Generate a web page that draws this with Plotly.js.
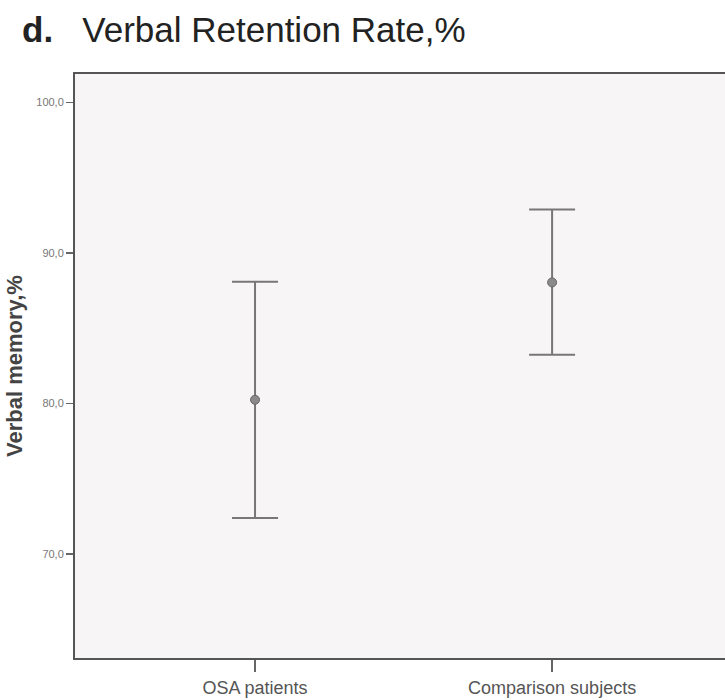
<!DOCTYPE html>
<html>
<head>
<meta charset="utf-8">
<script src="https://cdn.plot.ly/plotly-3.0.1.min.js"></script>
<style>html,body{margin:0;padding:0;background:#fff;}#chart{width:725px;height:700px;}</style>
</head>
<body>
<div id="chart"></div>
<script>
const categories = ["OSA patients", "Comparison subjects"];
const means = [80.25, 88.05];
const upper = [88.1, 92.9];
const lower = [72.4, 83.25];
const yTickVals = [70, 80, 90, 100];
const yTickText = ["70,0", "80,0", "90,0", "100,0"];

const xPos = categories.map((c, i) => i);
const trace = {
  type: "scatter",
  mode: "markers",
  x: xPos,
  y: means,
  marker: {size: 9, color: "#8a8a8a", line: {color: "#666", width: 1}},
  error_y: {
    type: "data",
    symmetric: false,
    array: upper.map((u, i) => u - means[i]),
    arrayminus: means.map((m, i) => m - lower[i]),
    color: "#777",
    thickness: 2,
    width: 23
  },
  hoverinfo: "skip"
};

const layout = {
  width: 725,
  height: 700,
  margin: {l: 75, r: 0, t: 74, b: 42},
  paper_bgcolor: "#ffffff",
  plot_bgcolor: "#f8f5f6",
  showlegend: false,
  title: {
    text: "<b>d.</b>&nbsp;&nbsp; Verbal Retention Rate,%",
    font: {family: "Liberation Sans, Arial, sans-serif", size: 35, color: "#222"},
    x: 0, xref: "container", xanchor: "left",
    y: 1, yref: "container", yanchor: "top",
    pad: {t: 17, l: 22}
  },
  xaxis: {
    range: [-0.606, 1.582],
    tickmode: "array",
    tickvals: xPos,
    ticktext: categories,
    ticks: "outside",
    ticklen: 12,
    tickwidth: 1.5,
    tickcolor: "#666",
    showgrid: false,
    zeroline: false,
    showline: true,
    linecolor: "#555",
    linewidth: 2,
    mirror: true,
    tickfont: {family: "Liberation Sans, Arial, sans-serif", size: 18, color: "#555"}
  },
  yaxis: {
    range: [63.09, 101.9],
    tickmode: "array",
    tickvals: yTickVals,
    ticktext: yTickText,
    ticks: "outside",
    ticklen: 7,
    tickwidth: 1.5,
    tickcolor: "#666",
    showgrid: false,
    zeroline: false,
    showline: true,
    linecolor: "#555",
    linewidth: 2,
    tickfont: {family: "Liberation Sans, Arial, sans-serif", size: 11, color: "#777"},
    title: {
      text: "<b>Verbal memory,%</b>",
      font: {family: "Liberation Sans, Arial, sans-serif", size: 22, color: "#444"},
      standoff: 8
    }
  }
};

Plotly.newPlot("chart", [trace], layout, {displayModeBar: false, staticPlot: true});
</script>
</body>
</html>
